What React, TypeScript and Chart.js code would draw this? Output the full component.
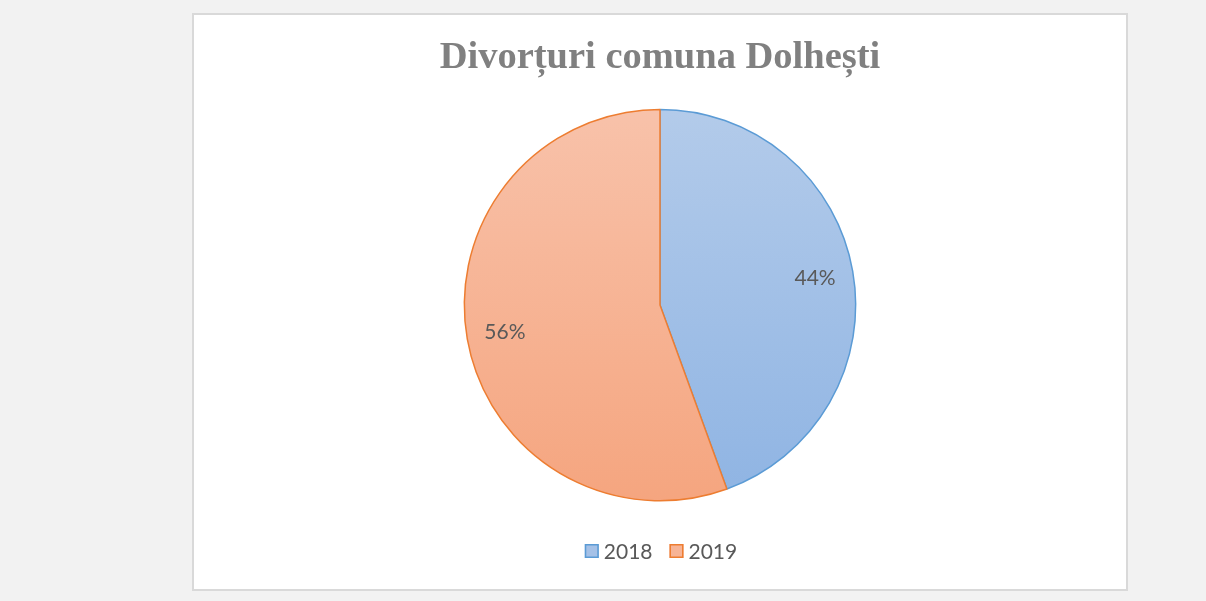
import { useEffect, useRef } from "react";
import { Chart, registerables } from "chart.js";

Chart.register(...registerables);

const chartTitle = "Divorțuri comuna Dolhești";
const categories = ["2018", "2019"];
const values = [4, 5];
const gradientTop = ["#b3cbea", "#f8c2aa"];
const gradientBottom = ["#8fb4e3", "#f5a57f"];
const legendFill = ["#a5c1e7", "#f7b496"];
const borderColors = ["#5b9bd5", "#ed7d31"];

const total = values.reduce((a, b) => a + b, 0);
const percentLabels = values.map((v) => Math.round((v / total) * 100) + "%");

const labelFont = "21px Lato";
const labelColor = "#595959";

const percentPlugin = {
  id: "percentLabels",
  afterDatasetsDraw(chart: any) {
    const meta = chart.getDatasetMeta(0);
    const ctx = chart.ctx;
    ctx.save();
    ctx.font = labelFont;
    ctx.fillStyle = labelColor;
    ctx.textAlign = "center";
    ctx.textBaseline = "middle";
    meta.data.forEach((arc: any, i: number) => {
      const p = arc.getProps(["x", "y", "startAngle", "endAngle", "outerRadius"], true);
      const mid = (p.startAngle + p.endAngle) / 2;
      const r = p.outerRadius * 0.805;
      ctx.fillText(percentLabels[i], p.x + Math.cos(mid) * r, p.y + Math.sin(mid) * r);
    });
    ctx.restore();
  },
};

const legendPlugin = {
  id: "customLegend",
  afterDraw(chart: any) {
    const ctx = chart.ctx;
    ctx.save();
    ctx.font = labelFont;
    const box = 14;
    const gapText = 5;
    const gapItem = 17;
    const widths = categories.map((c) => ctx.measureText(c).width);
    const totalW =
      widths.reduce((a, w) => a + box + gapText + w, 0) + gapItem * (categories.length - 1);
    let x = chart.width / 2 - totalW / 2 + 1;
    const y = 536;
    ctx.textBaseline = "middle";
    ctx.textAlign = "left";
    categories.forEach((c, i) => {
      ctx.fillStyle = legendFill[i];
      ctx.fillRect(x, y - box / 2, box, box);
      ctx.strokeStyle = borderColors[i];
      ctx.lineWidth = 1.5;
      ctx.strokeRect(x + 0.75, y - box / 2 + 0.75, box - 1.5, box - 1.5);
      ctx.fillStyle = labelColor;
      ctx.fillText(c, x + box + gapText, y + 1);
      x += box + gapText + widths[i] + gapItem;
    });
    ctx.restore();
  },
};

export default function App() {
  const ref = useRef<HTMLCanvasElement>(null);
  useEffect(() => {
    if (!ref.current) return;
    const chart = new Chart(ref.current, {
      type: "pie",
      data: {
        labels: categories,
        datasets: [
          {
            data: values,
            backgroundColor: (c: any) => {
              const a = c.chart.chartArea;
              const i = c.dataIndex;
              if (!a) return gradientTop[i];
              const g = c.chart.ctx.createLinearGradient(0, a.top, 0, a.bottom);
              g.addColorStop(0, gradientTop[i]);
              g.addColorStop(1, gradientBottom[i]);
              return g;
            },
            borderColor: borderColors,
            borderWidth: 1.5,
          },
        ],
      },
      options: {
        responsive: false,
        animation: false,
        layout: { padding: { top: 0, bottom: 87.5, left: 0, right: 0 } },
        plugins: {
          legend: { display: false },
          tooltip: { enabled: false },
          title: {
            display: true,
            text: chartTitle,
            color: "#808080",
            font: { family: "Liberation Serif", size: 38.5, weight: "bold" },
            padding: { top: 19.5, bottom: 28 },
          },
        },
      },
      plugins: [percentPlugin, legendPlugin],
    });
    return () => chart.destroy();
  }, []);
  return (
    <div style={{ position: "fixed", left: 0, top: 0, width: 1206, height: 601, background: "#f2f2f2" }}>
      <div
        style={{
          position: "absolute",
          left: 192,
          top: 13,
          width: 932,
          height: 574,
          border: "2px solid #d9d9d9",
          background: "#ffffff",
        }}
      >
        <canvas ref={ref} width={932} height={574} style={{ display: "block" }} />
      </div>
    </div>
  );
}
